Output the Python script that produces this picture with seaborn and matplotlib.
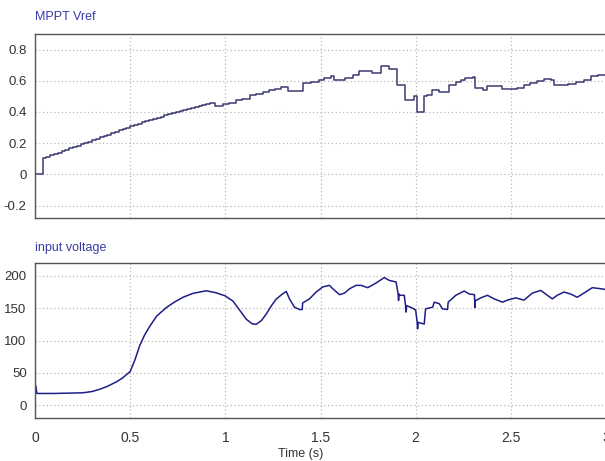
import matplotlib
matplotlib.use("Agg")
import matplotlib.pyplot as plt
import pandas as pd
import seaborn as sns

# MPPT reference voltage (per-unit), held between updates (step-post)
vref_time = [0.0, 0.042, 0.06, 0.08, 0.10, 0.12, 0.14, 0.16, 0.18, 0.20, 0.22,
             0.24, 0.26, 0.28, 0.30, 0.32, 0.34, 0.36, 0.38, 0.40, 0.42, 0.44,
             0.46, 0.48, 0.50, 0.52, 0.54, 0.56, 0.58, 0.60, 0.62, 0.64, 0.66,
             0.68, 0.70, 0.72, 0.74, 0.76, 0.78, 0.80, 0.82, 0.84, 0.86, 0.88,
             0.90, 0.92, 0.945, 0.99, 1.02, 1.058, 1.09, 1.127, 1.16, 1.196,
             1.23, 1.26, 1.295, 1.33, 1.41, 1.45, 1.49, 1.52, 1.555, 1.57,
             1.63, 1.67, 1.70, 1.77, 1.82, 1.86, 1.903, 1.945, 1.993, 2.007,
             2.045, 2.06, 2.087, 2.124, 2.176, 2.21, 2.24, 2.26, 2.30, 2.313,
             2.355, 2.376, 2.455, 2.533, 2.57, 2.60, 2.64, 2.674, 2.71, 2.727,
             2.766, 2.80, 2.84, 2.884, 2.92, 2.96, 3.0]
vref_value = [0.0, 0.105, 0.112, 0.121, 0.130, 0.139, 0.148, 0.157, 0.166,
              0.175, 0.184, 0.192, 0.201, 0.210, 0.219, 0.228, 0.237, 0.246,
              0.255, 0.264, 0.273, 0.282, 0.291, 0.300, 0.309, 0.317, 0.325,
              0.333, 0.340, 0.348, 0.355, 0.363, 0.370, 0.378, 0.385, 0.392,
              0.399, 0.406, 0.412, 0.419, 0.426, 0.432, 0.439, 0.446, 0.452,
              0.458, 0.44, 0.448, 0.456, 0.477, 0.485, 0.51, 0.517, 0.527,
              0.538, 0.548, 0.558, 0.535, 0.585, 0.595, 0.605, 0.615, 0.628,
              0.606, 0.62, 0.635, 0.66, 0.65, 0.692, 0.675, 0.574, 0.477, 0.50,
              0.40, 0.50, 0.51, 0.54, 0.525, 0.574, 0.59, 0.605, 0.617, 0.624,
              0.553, 0.542, 0.568, 0.546, 0.555, 0.57, 0.585, 0.60, 0.613,
              0.606, 0.574, 0.57, 0.58, 0.595, 0.606, 0.628, 0.635, 0.64]

# PV input voltage (V)
vin_time = [0.0, 0.004, 0.01, 0.1, 0.25, 0.30, 0.34, 0.38, 0.428, 0.46, 0.5,
            0.525, 0.55, 0.575, 0.603, 0.64, 0.69, 0.73, 0.778, 0.83, 0.90,
            0.95, 1.0, 1.04, 1.075, 1.11, 1.14, 1.162, 1.19, 1.215, 1.24,
            1.267, 1.30, 1.32, 1.337, 1.363, 1.39, 1.404, 1.406, 1.442, 1.477,
            1.512, 1.547, 1.565, 1.60, 1.626, 1.652, 1.687, 1.713, 1.748,
            1.792, 1.835, 1.862, 1.897, 1.908, 1.91, 1.913, 1.916, 1.94,
            1.947, 1.949, 1.952, 1.984, 2.0, 2.008, 2.01, 2.013, 2.045, 2.052,
            2.089, 2.098, 2.124, 2.141, 2.167, 2.171, 2.211, 2.255, 2.281,
            2.309, 2.311, 2.313, 2.316, 2.342, 2.377, 2.412, 2.456, 2.482,
            2.526, 2.569, 2.613, 2.657, 2.692, 2.718, 2.744, 2.779, 2.814,
            2.849, 2.884, 2.928, 2.963, 3.0]
vin_value = [18, 30, 18, 18, 19, 21, 24.5, 29, 36, 42, 52, 70, 92, 108, 122,
             138, 151, 159, 167, 173, 177, 174, 169, 161, 147, 133, 126, 125,
             131, 141, 153, 164, 172, 176, 164.5, 151.6, 148, 148, 158, 164.5,
             175, 183, 185.4, 180, 171, 173.4, 180, 185.4, 185.4, 181.8, 189,
             197.4, 193, 190.6, 172, 162, 172, 170, 170, 154, 144, 154, 150,
             147, 128, 118, 128, 125.5, 149, 151.6, 159.4, 157, 149, 148,
             159.4, 170, 176.6, 172, 171, 151, 162, 162, 166, 170, 164.5,
             159.4, 162.5, 166, 162.5, 173.4, 177.6, 170, 164.5, 170, 175, 172,
             167, 173.4, 181.8, 180.5, 179]

time_ticks = [0, 0.5, 1, 1.5, 2, 2.5, 3]
time_tick_labels = ["0", "0.5", "1", "1.5", "2", "2.5", "3"]
vref_ticks = [-0.2, 0, 0.2, 0.4, 0.6, 0.8]
vref_tick_labels = ["-0.2", "0", "0.2", "0.4", "0.6", "0.8"]
vin_ticks = [0, 50, 100, 150, 200]
vin_tick_labels = ["0", "50", "100", "150", "200"]

sns.set_style("white")
plt.rcParams["font.family"] = ["Liberation Sans Narrow", "Liberation Sans", "DejaVu Sans"]

vref_df = pd.DataFrame({"t": vref_time, "v": vref_value})
vin_df = pd.DataFrame({"t": vin_time, "v": vin_value})

fig = plt.figure(figsize=(6.05, 4.61), dpi=100)
ax_top = fig.add_axes([35 / 605, 1 - 218 / 461, 571 / 605, 184 / 461])
ax_bot = fig.add_axes([35 / 605, 1 - 418 / 461, 571 / 605, 155 / 461])

sns.lineplot(data=vref_df, x="t", y="v", ax=ax_top, color="#3a3a72",
             linewidth=1.1, drawstyle="steps-post", estimator=None, sort=False)
sns.lineplot(data=vin_df, x="t", y="v", ax=ax_bot, color="#1e1e86",
             linewidth=1.1, estimator=None, sort=False)

title_color = "#3a3aa6"
label_color = "#333333"
for ax, ticks, labels, ylim, title in [
    (ax_top, vref_ticks, vref_tick_labels, (-0.28, 0.9), "MPPT Vref"),
    (ax_bot, vin_ticks, vin_tick_labels, (-20, 220), "input voltage"),
]:
    ax.set_xlim(0, 3)
    ax.set_ylim(*ylim)
    ax.set_xticks(time_ticks)
    ax.set_yticks(ticks)
    ax.set_yticklabels(labels, fontsize=9.5, color=label_color)
    ax.grid(True, color="#b8b8b8", linestyle=(0, (1, 2)), linewidth=0.9)
    ax.tick_params(axis="y", length=0, pad=6)
    ax.tick_params(axis="x", length=0, pad=9)
    for sp in ax.spines.values():
        sp.set_color("#555555")
        sp.set_linewidth(1.0)
    ax.set_xlabel("")
    ax.set_ylabel("")
    ax.text(0.0, 1.06, title, transform=ax.transAxes, ha="left", va="bottom",
            fontsize=9, color=title_color)

ax_top.set_xticklabels([])
ax_bot.set_xticklabels(time_tick_labels, fontsize=10, color=label_color)
ax_bot.set_xlabel("Time (s)", fontsize=9, color=label_color, labelpad=1)
ax_bot.xaxis.set_label_coords(0.465, -0.195)

fig.savefig("out.png", dpi=100)
